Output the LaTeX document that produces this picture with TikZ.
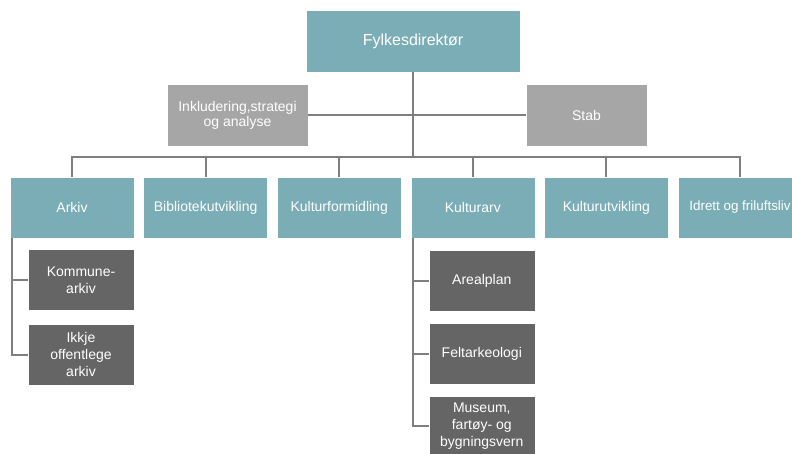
\documentclass[tikz,border=0pt]{standalone}
\usepackage{fontspec}
\setmainfont{Liberation Sans}
\usepackage{xcolor}
\usetikzlibrary{positioning}

\definecolor{headteal}{HTML}{7AADB5}
\definecolor{staffgray}{HTML}{A6A6A6}
\definecolor{unitgray}{HTML}{656565}
\definecolor{linegray}{HTML}{7F7F7F}

\begin{document}
\begin{tikzpicture}[x=1pt, y=-1pt,
        box/.style={draw=white, line width=0.6pt, text=white, inner sep=2pt, align=center,
            font=\fontsize{14}{17}\selectfont},
        director/.style={box, fill=headteal, minimum width=214pt, minimum height=62pt,
            font=\fontsize{16}{19}\selectfont},
        staff/.style={box, fill=staffgray, minimum height=62pt, font=\fontsize{14}{15}\selectfont},
        dept/.style={box, fill=headteal, minimum width=124pt, minimum height=61pt},
        unit/.style={box, fill=unitgray, minimum width=106pt, minimum height=61pt},
        link/.style={draw=linegray, line width=2pt}]
            \clip (0,0) rectangle (792,453);

            \node (direktor) [director] at (413,41) {Fylkesdirektør};
            \node (inkludering) [staff, minimum width=141pt] at (237.5,115) {Inkludering,strategi\\og analyse};
            \node (stab) [staff, minimum width=121pt] at (586.5,115) {Stab};

            \node (arkiv) [dept] at (72,207.5) {Arkiv};
            \node (bibliotek) [dept, right=9pt of arkiv] {Bibliotekutvikling};
            \node (formidling) [dept, right=9pt of bibliotek] {Kulturformidling};
            \node (kulturarv) [dept, right=9pt of formidling] {Kulturarv};
            \node (utvikling) [dept, right=9pt of kulturarv] {Kulturutvikling};
            \node (idrett) [dept, right=9pt of utvikling, font=\fontsize{13.4}{16}\selectfont] {Idrett og friluftsliv};

            \node (kommune) [unit, below=11pt of arkiv.south east, anchor=north east] {Kommune-\\arkiv};
            \node (ikkje) [unit, below=13pt of kommune] {Ikkje\\offentlege\\arkiv};

            \node (arealplan) [unit, below=12pt of kulturarv.south east, anchor=north east] {Arealplan};
            \node (felt) [unit, below=11pt of arealplan] {Feltarkeologi};
            \node (museum) [unit, below=11pt of felt] {Museum,\\fartøy- og\\bygningsvern};

            \coordinate (bar) at (413,157);
            \coordinate (arkivline) at ([xshift=2pt]arkiv.south west);
            \coordinate (arvline) at ([xshift=2pt]kulturarv.south west);

            \draw[link] (direktor.south) -- (bar);
            \draw[link] (inkludering.east) -- (stab.west);
            \draw[link] (arkiv.north) |- (bar) -| (idrett.north);
            \foreach \dept in {bibliotek,formidling,kulturarv,utvikling}
                \draw[link] (\dept.north |- bar) -- (\dept.north);

            \draw[link] (arkivline) |- (ikkje.west);
            \draw[link] (kommune.west) -- (kommune.west -| arkivline);
            \draw[link] (arvline) |- (museum.west);
            \foreach \sub in {arealplan,felt}
                \draw[link] (\sub.west) -- (\sub.west -| arvline);
        \end{tikzpicture}
\end{document}
